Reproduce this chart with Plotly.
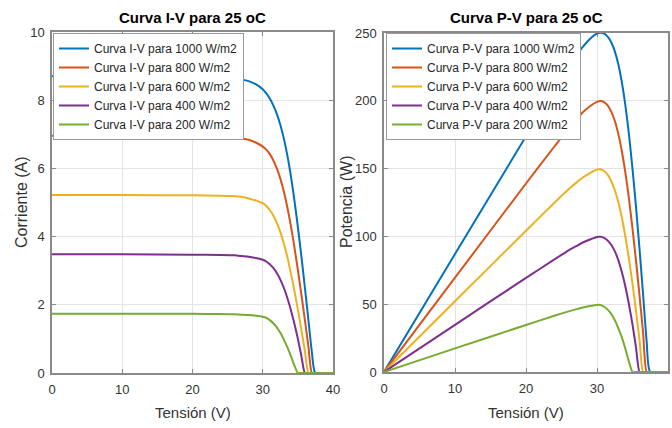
import plotly.graph_objects as go

# ---------------- data ----------------
voltage = [0, 10, 20, 24, 26, 27, 28, 29, 30, 30.5, 31, 31.5, 32, 32.5, 33, 33.5,
           34, 34.5, 35, 35.5, 36, 36.5, 37, 37.5, 40]

irradiance_labels = ["1000", "800", "600", "400", "200"]

current_1000 = [8.70, 8.70, 8.69, 8.67, 8.64, 8.61, 8.56, 8.47, 8.32, 8.20, 8.05, 7.85, 7.60, 7.28,
                6.88, 6.38, 5.78, 5.08, 4.28, 3.42, 2.50, 1.55, 0.60, 0, 0]
current_800 = [6.96, 6.96, 6.95, 6.93, 6.91, 6.88, 6.84, 6.76, 6.64, 6.55, 6.42, 6.24, 6.00, 5.70,
               5.32, 4.86, 4.32, 3.70, 3.02, 2.30, 1.55, 0.78, 0, 0, 0]
current_600 = [5.22, 5.22, 5.21, 5.20, 5.18, 5.16, 5.12, 5.06, 4.98, 4.90, 4.78, 4.62, 4.40, 4.13,
               3.80, 3.40, 2.93, 2.42, 1.86, 1.26, 0.64, 0, 0, 0, 0]
current_400 = [3.48, 3.48, 3.47, 3.46, 3.45, 3.43, 3.41, 3.37, 3.32, 3.27, 3.19, 3.08, 2.93, 2.74,
               2.50, 2.20, 1.85, 1.45, 1.00, 0.50, 0, 0, 0, 0, 0]
current_200 = [1.74, 1.74, 1.735, 1.73, 1.72, 1.71, 1.70, 1.68, 1.65, 1.62, 1.55, 1.46, 1.34, 1.18,
               0.98, 0.76, 0.50, 0.22, 0, 0, 0, 0, 0, 0, 0]

power_1000 = [0, 87.0, 173.8, 208.1, 224.6, 232.5, 239.7, 245.6, 249.6, 250.1, 249.6, 247.3, 243.2,
              236.6, 227.0, 213.7, 196.5, 175.3, 149.8, 121.4, 90.0, 56.6, 22.2, 0, 0]
power_800 = [0, 69.6, 139.0, 166.3, 179.7, 185.8, 191.5, 196.0, 199.2, 199.8, 199.0, 196.6, 192.0,
             185.3, 175.6, 162.8, 146.9, 127.7, 105.7, 81.7, 55.8, 28.5, 0, 0, 0]
power_600 = [0, 52.2, 104.2, 124.8, 134.7, 139.3, 143.4, 146.7, 149.4, 149.5, 148.2, 145.5, 140.8,
             134.2, 125.4, 113.9, 99.6, 83.5, 65.1, 44.7, 23.0, 0, 0, 0, 0]
power_400 = [0, 34.8, 69.4, 83.0, 89.7, 92.6, 95.5, 97.7, 99.6, 99.7, 98.9, 97.0, 93.8, 89.1, 82.5,
             73.7, 62.9, 50.0, 35.0, 17.8, 0, 0, 0, 0, 0]
power_200 = [0, 17.4, 34.7, 41.5, 44.7, 46.2, 47.6, 48.7, 49.5, 49.4, 48.1, 46.0, 42.9, 38.4, 32.3,
             25.5, 17.0, 7.6, 0, 0, 0, 0, 0, 0, 0]

x_ticks = [0, 10, 20, 30, 40]
iv_y_ticks = [0, 2, 4, 6, 8, 10]
pv_y_ticks = [0, 50, 100, 150, 200, 250]

# ---------------- styling ----------------
colors = ["#0072BD", "#D95319", "#EDB120", "#7E2F8E", "#77AC30"]
FONT = "Liberation Sans, Arial, sans-serif"
W, H = 672, 428

currents = [current_1000, current_800, current_600, current_400, current_200]
powers = [power_1000, power_800, power_600, power_400, power_200]

fig = go.Figure()
for lab, cur, col in zip(irradiance_labels, currents, colors):
    fig.add_trace(go.Scatter(x=voltage, y=cur, mode="lines", name=f"Curva I-V para {lab} W/m2",
                             line=dict(color=col, width=2, shape="spline", smoothing=0.6),
                             xaxis="x", yaxis="y", legend="legend"))
for lab, pw, col in zip(irradiance_labels, powers, colors):
    fig.add_trace(go.Scatter(x=voltage, y=pw, mode="lines", name=f"Curva P-V para {lab} W/m2",
                             line=dict(color=col, width=2, shape="spline", smoothing=0.6),
                             xaxis="x2", yaxis="y2", legend="legend2"))

axis_common = dict(showline=True, linecolor="#8a8a8a", linewidth=1.5, mirror="ticks",
                   ticks="inside", ticklen=4, tickcolor="#8a8a8a", showgrid=True,
                   gridcolor="#e4e4e4", gridwidth=1, zeroline=False, automargin=False,
                   tickfont=dict(family=FONT, size=13, color="#333333"), layer="below traces")


def px_x(p):
    return p / W


def px_y(p):
    return 1 - p / H


legend_common = dict(xanchor="left", yanchor="top", bgcolor="white",
                     bordercolor="#9a9a9a", borderwidth=1,
                     font=dict(family=FONT, size=12, color="#262626"))

fig.update_layout(
    width=W, height=H, margin=dict(l=0, r=0, t=0, b=0, autoexpand=False),
    paper_bgcolor="white", plot_bgcolor="white",
    xaxis=dict(domain=[px_x(52), px_x(333)], range=[0, 40], tickvals=x_ticks, anchor="y",
               ticklabelstandoff=4, **axis_common),
    yaxis=dict(domain=[px_y(373), px_y(32)], range=[0, 10], tickvals=iv_y_ticks, anchor="x",
               ticklabelstandoff=3, **axis_common),
    xaxis2=dict(domain=[px_x(384), px_x(668)], range=[0, 40], tickvals=x_ticks, anchor="y2",
                ticklabelstandoff=4, **axis_common),
    yaxis2=dict(domain=[px_y(372), px_y(33)], range=[0, 250], tickvals=pv_y_ticks, anchor="x2",
                ticklabelstandoff=3, **axis_common),
    legend=dict(x=px_x(53), y=px_y(33), **legend_common),
    legend2=dict(x=px_x(386), y=px_y(33), **legend_common),
    showlegend=True,
)

ann = [
    dict(text="<b>Curva I-V para 25 oC</b>", x=px_x(192), y=px_y(17), size=15, angle=0, color="black"),
    dict(text="<b>Curva P-V para 25 oC</b>", x=px_x(526), y=px_y(17), size=15, angle=0, color="black"),
    dict(text="Tensión (V)", x=px_x(193), y=px_y(412), size=15, angle=0, color="#333333"),
    dict(text="Tensión (V)", x=px_x(526), y=px_y(412), size=15, angle=0, color="#333333"),
    dict(text="Corriente (A)", x=px_x(21), y=px_y(202), size=16, angle=-90, color="#333333"),
    dict(text="Potencia (W)", x=px_x(346), y=px_y(202), size=16, angle=-90, color="#333333"),
]
for a in ann:
    fig.add_annotation(text=a["text"], x=a["x"], y=a["y"], xref="paper", yref="paper",
                       xanchor="center", yanchor="middle", showarrow=False, textangle=a["angle"],
                       font=dict(family=FONT, size=a["size"], color=a["color"]))

fig.write_html("out.html", config={"displayModeBar": False},
               post_script="document.body.style.margin='0px';document.body.style.overflow='hidden';")
